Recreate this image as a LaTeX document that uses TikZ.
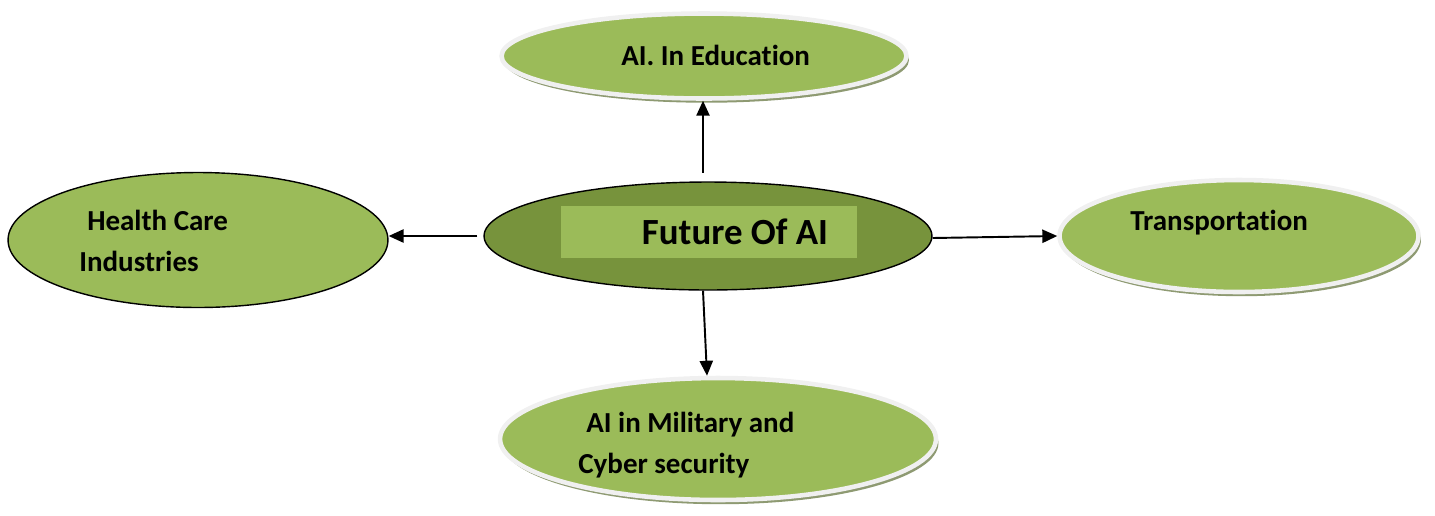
\documentclass[tikz,border=0pt]{standalone}
\usepackage{fontspec}
\setmainfont{Carlito}[Ligatures=NoCommon]
\usetikzlibrary{shapes.geometric,shadows,arrows.meta,positioning}

\definecolor{leaf}{HTML}{9BBB59}
\definecolor{moss}{HTML}{77933C}
\definecolor{ring}{HTML}{F0F0F0}
\definecolor{shade}{HTML}{8E9A72}

\tikzset{
  bubble/.style={ellipse,fill=leaf,draw=ring,line width=2.6pt,
    drop shadow={shadow xshift=1.4pt,shadow yshift=-2.4pt,fill=shade,opacity=1}},
  plain/.style={ellipse,fill=leaf,draw=black,line width=0.8pt},
  lbl/.style={font=\bfseries\fontsize{16.5}{23}\selectfont,anchor=west,align=left,inner sep=0pt},
  link/.style={draw=black,line width=1.1pt,-{Triangle[length=8.5pt,width=7.5pt]}}
}

\begin{document}
\begin{tikzpicture}[x=0.02cm,y=-0.02cm]
\useasboundingbox (0,0) rectangle (1435,515);

% centre
\node[ellipse,fill=moss,draw=black,line width=0.8pt,minimum width=8.96cm,minimum height=2.16cm] (fut) at (708,236) {};
\node[fill=leaf,minimum width=5.92cm,minimum height=1.04cm,inner sep=0pt] (fut-box) at (709,232) {};
\node[font=\bfseries\fontsize{21}{25}\selectfont,inner sep=0pt] (fut-txt) at (735,232) {Future Of AI};

% branches
\node[bubble,minimum width=8.1cm,minimum height=1.7cm] (edu) at (704,56) {};
\node[lbl] (edu-txt) at (621,55) {AI. In Education};

\node[plain,minimum width=7.6cm,minimum height=2.7cm] (hlt) at (198,240) {};
\node[lbl] (hlt-txt) at (79,241) {\hspace*{4.5pt}Health Care\\Industries};

\node[bubble,minimum width=7.18cm,minimum height=2.24cm] (trn) at (1239,236) {};
\node[lbl] (trn-txt) at (1130,223) {Transportation};

\node[bubble,minimum width=8.72cm,minimum height=2.44cm] (mil) at (718,439) {};
\node[lbl] (mil-txt) at (578,445) {\hspace*{4.5pt}AI in Military and\\Cyber security};

% connectors
\draw[link,shorten <=5pt] (fut.north) ++(-5,0) coordinate (fut-n) -- (fut-n |- edu.south);
\draw[link,shorten <=3.4pt] (fut.west) -- (fut.west -| hlt.east);
\draw[link] ([yshift=-0.04cm]fut.east) -- (trn.west);
\draw[link] ([xshift=-0.1cm]fut.south) -- ([xshift=-0.22cm]mil.north);

\end{tikzpicture}
\end{document}
